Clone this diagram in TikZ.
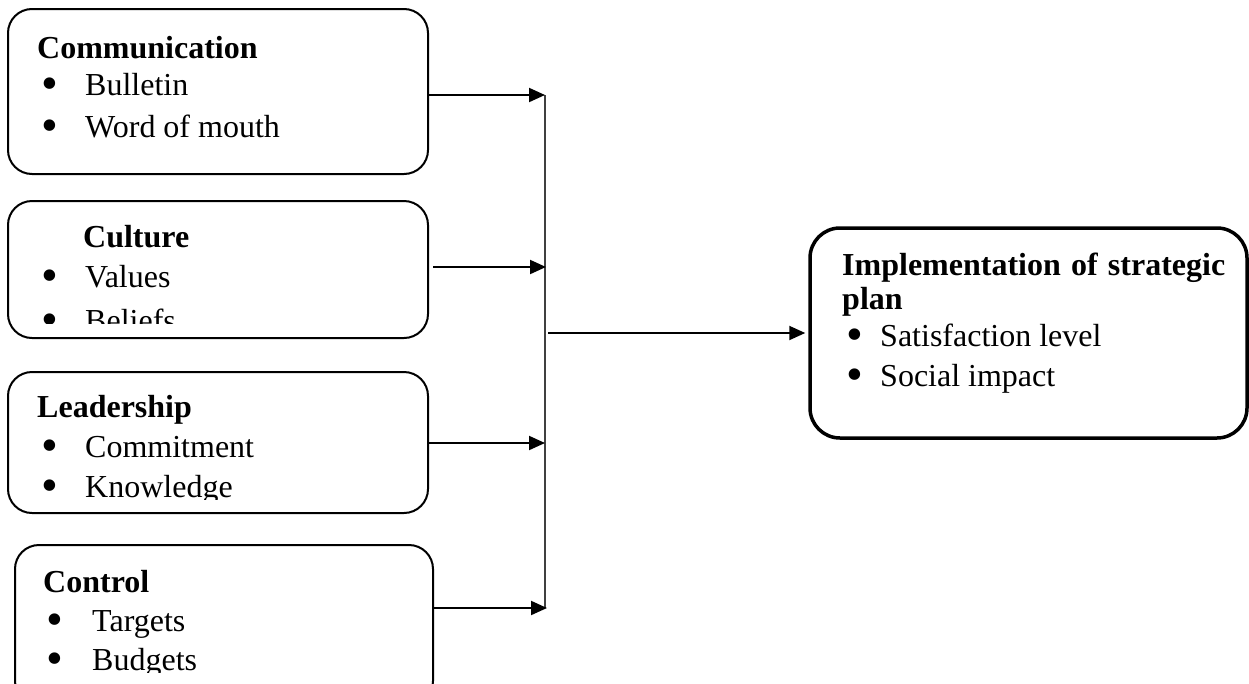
\documentclass[tikz,border=0pt]{standalone}
\usepackage{fontspec}
\setmainfont{Liberation Serif}
\usetikzlibrary{arrows.meta}
\tikzset{
  box/.style={draw, line width=2pt, rounded corners=24pt, inner sep=0pt},
  head/.style={anchor=base west, inner sep=0pt, font=\fontsize{32}{40}\selectfont\bfseries},
  item/.style={anchor=base west, inner sep=0pt, font=\fontsize{32}{40}\selectfont},
  feed/.style={line width=2pt, -{Triangle[length=16pt,width=14pt]}},
}
\newcommand{\bul}[1]{\makebox[#1][l]{\smash{\raisebox{-4pt}{\scalebox{1.5}{\textbullet}}}}}

\begin{document}
\begin{tikzpicture}[x=1pt, y=-1pt]
\clip (0,0) rectangle (1249,683);

% factor boxes
\node[box, minimum width=420pt, minimum height=165pt] (comm) at (218,91.5) {};
\node[box, minimum width=420pt, minimum height=137pt] (cult) at (218,269.5) {};
\node[box, minimum width=420pt, minimum height=141pt] (lead) at (218,442.5) {};
\node[box, minimum width=418pt, minimum height=160pt] (ctrl) at (224,625) {};
\node[box, line width=3.5pt, rounded corners=30pt, minimum width=437pt, minimum height=210pt] (impl) at (1028.5,333) {};

% texts
\node[head] (commtitle) at (37,58) {Communication};
\node[item] (bulletin) at (41,95) {\bul{44pt}Bulletin};
\node[item] (wordofmouth) at (41,137) {\bul{44pt}Word of mouth};

\node[head] (culttitle) at (83,247) {Culture};
\node[item] (values) at (41,287) {\bul{44pt}Values};
\begin{scope}
  \clip (0,300) rectangle (440,323);
  \node[item] (beliefs) at (41,331) {\bul{44pt}Beliefs};
\end{scope}

\node[head] (leadtitle) at (37,417) {Leadership};
\node[item] (commitment) at (41,457) {\bul{44pt}Commitment};
\begin{scope}
  \clip (0,470) rectangle (440,499);
  \node[item] (knowledge) at (41,497) {\bul{44pt}Knowledge};
\end{scope}

\node[head] (ctrltitle) at (43,592) {Control};
\node[item] (targets) at (46,631) {\bul{46pt}Targets};
\begin{scope}
  \clip (0,640) rectangle (440,672);
  \node[item] (budgets) at (46,670) {\bul{46pt}Budgets};
\end{scope}

\node[head] (impltitle) at (842,275) {\makebox[383pt][s]{Implementation of strategic}};
\node[head] (plan) at (842,309) {plan};
\node[item] (satisfaction) at (846,346) {\bul{34pt}Satisfaction level};
\node[item] (socialimpact) at (846,386) {\bul{34pt}Social impact};

% connectors
\coordinate (j1) at (545,95);
\coordinate (j2) at (546,267);
\coordinate (j3) at (545,443);
\coordinate (j4) at (547,608);
\coordinate (jm) at (548,333);

\draw[line width=1.3pt, black!75] (j1) -- (545,608);
\draw[feed] (comm.east |- j1) -- (j1);
\draw[feed] ([xshift=4pt]cult.east |- j2) -- (j2);
\draw[feed] (lead.east |- j3) -- (j3);
\draw[feed] (ctrl.east |- j4) -- (j4);
\draw[feed, shorten >=3pt] (jm) -- (impl.west);
\end{tikzpicture}
\end{document}
